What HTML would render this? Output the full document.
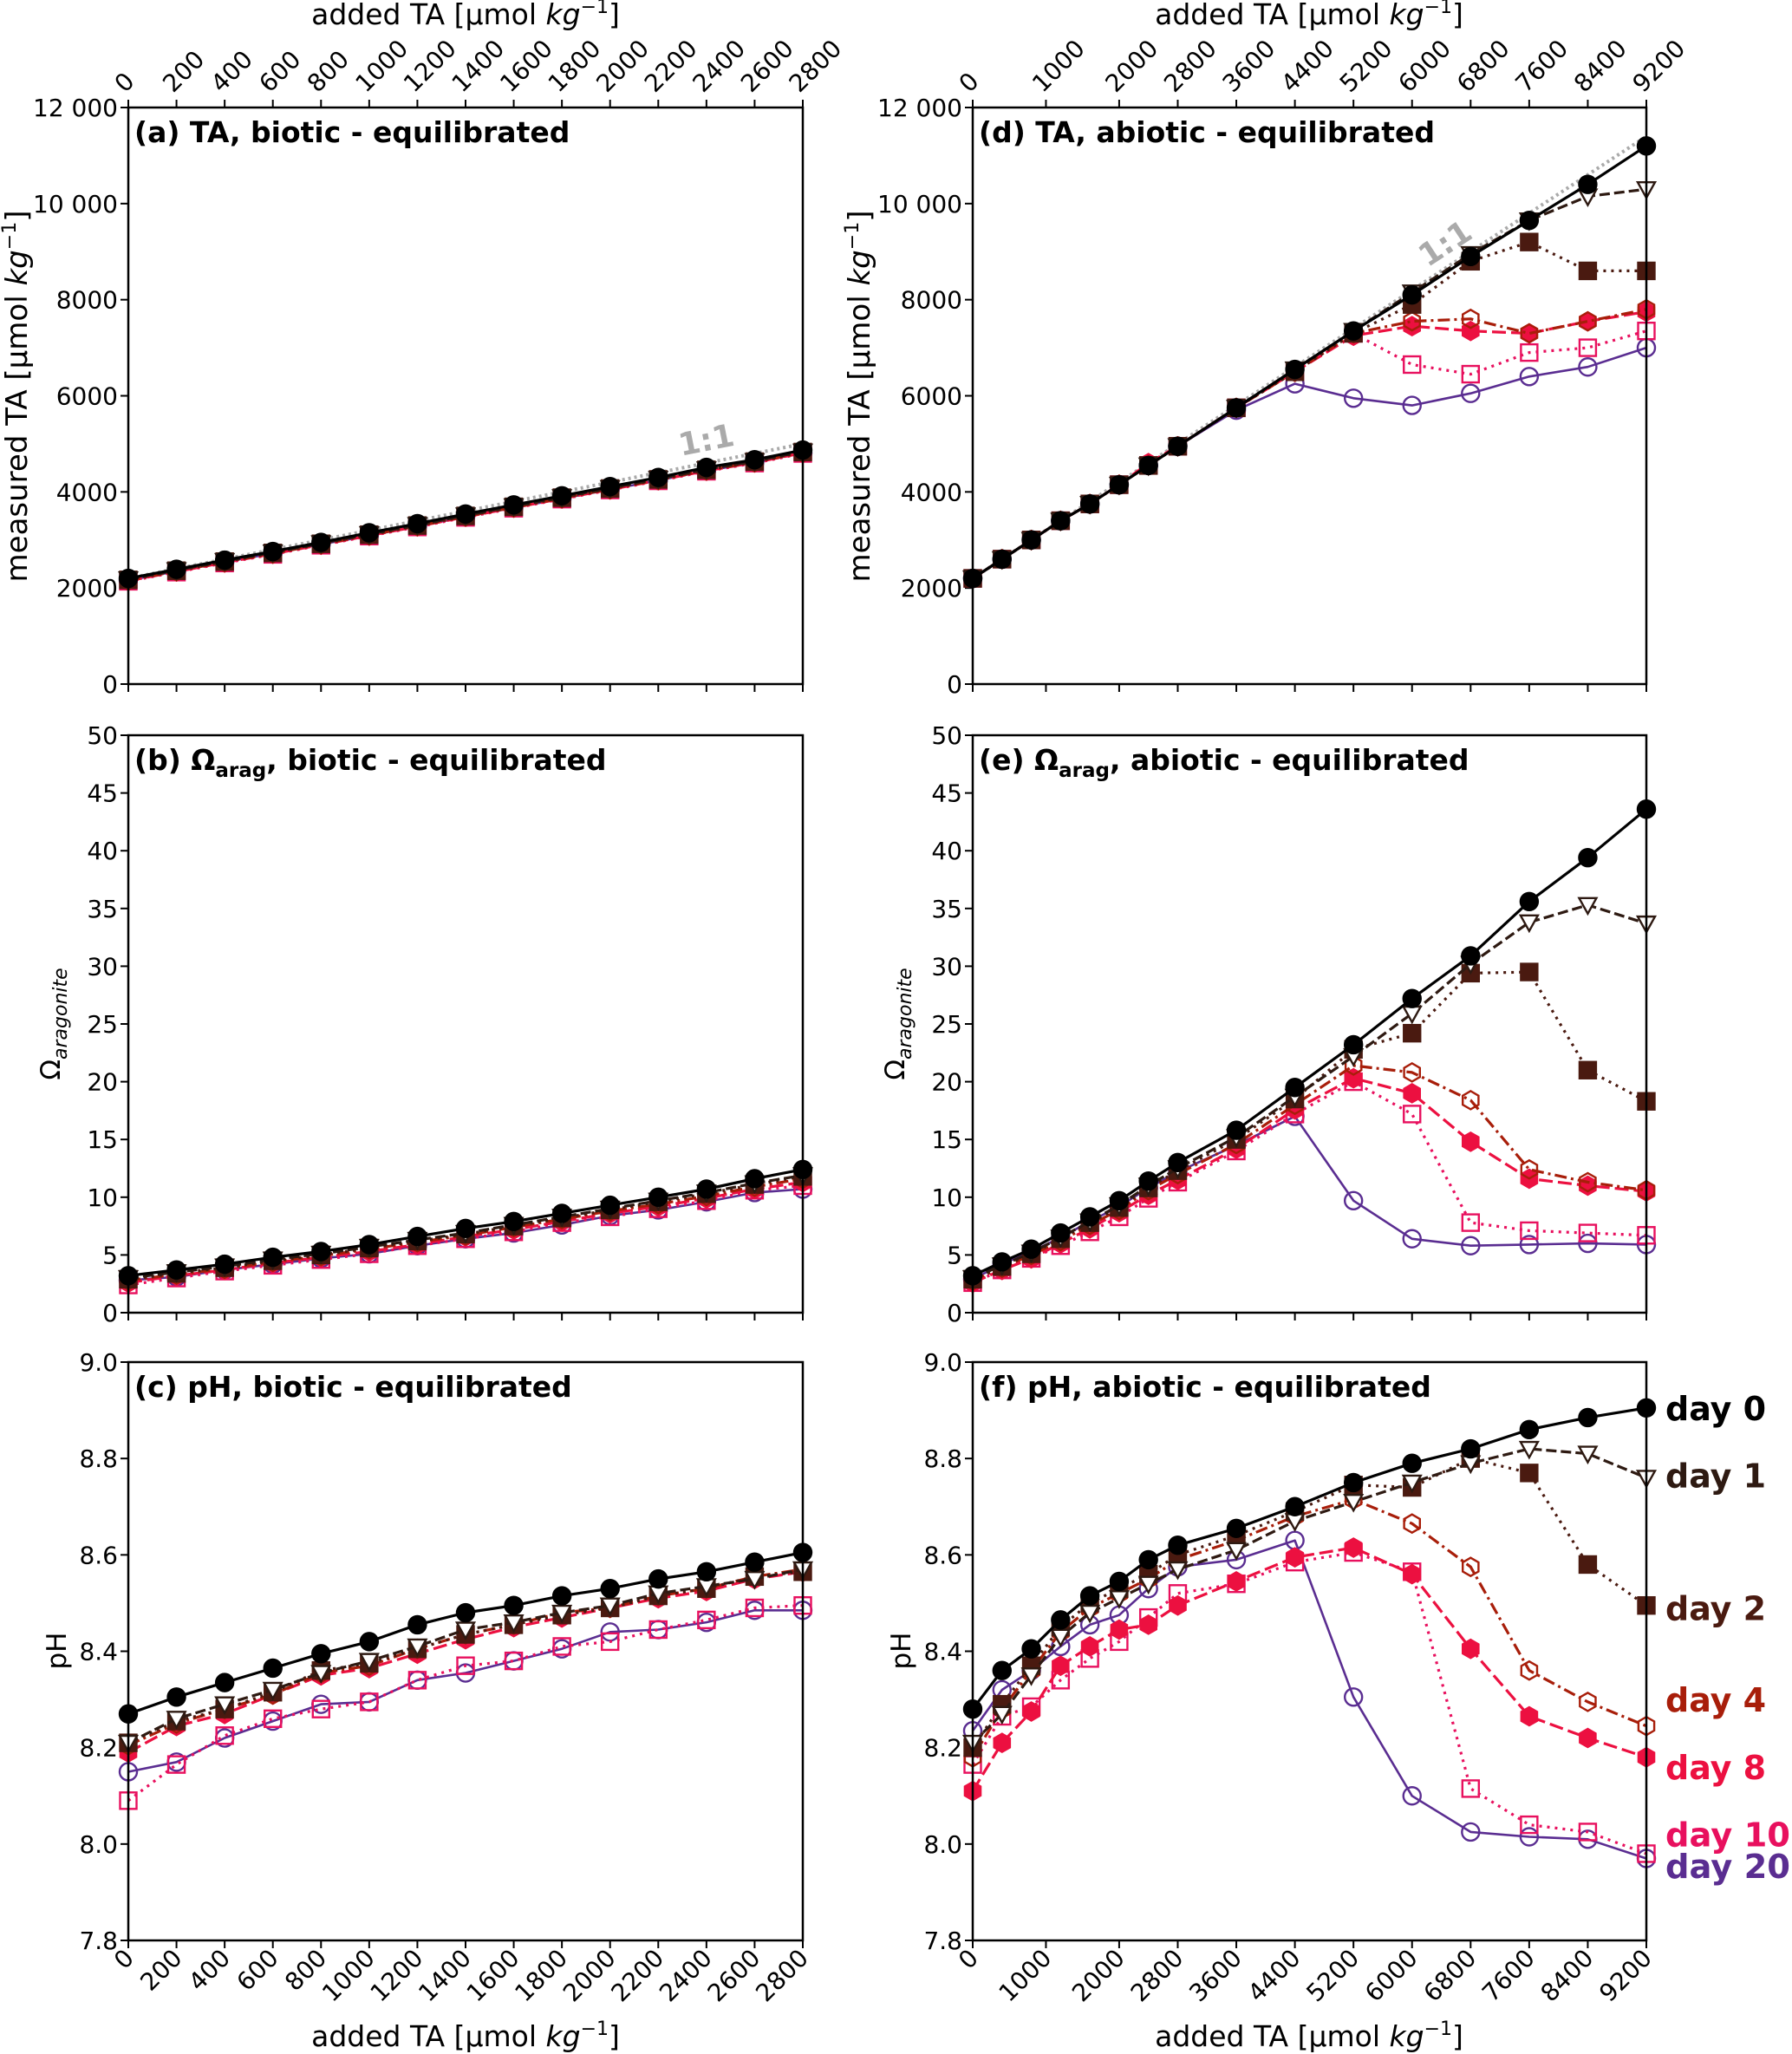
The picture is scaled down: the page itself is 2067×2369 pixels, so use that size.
<!DOCTYPE html>
<html><head><meta charset="utf-8">
<style>
html,body{margin:0;padding:0;background:#fff;}
svg{display:block;font-family:"DejaVu Sans","Liberation Sans",sans-serif;}
</style></head>
<body>
<svg id="chart" xmlns="http://www.w3.org/2000/svg" width="2067" height="2369" viewBox="0 0 2067 2369"></svg>
<script>
// ---- data ----
const dayLabels = ["day 0","day 1","day 2","day 4","day 8","day 10","day 20"];
const bioticX = [0,200,400,600,800,1000,1200,1400,1600,1800,2000,2200,2400,2600,2800];
const abioticX = [0,400,800,1200,1600,2000,2400,2800,3600,4400,5200,6000,6800,7600,8400,9200];
const bioticTicks = [0,200,400,600,800,1000,1200,1400,1600,1800,2000,2200,2400,2600,2800];
const abioticTicks = [0,1000,2000,2800,3600,4400,5200,6000,6800,7600,8400,9200];

// biotic TA
const taB0 = [2200,2390,2580,2760,2950,3150,3340,3540,3730,3920,4110,4300,4510,4670,4870];
const taB1 = [2180,2370,2560,2740,2930,3120,3310,3510,3700,3890,4080,4270,4470,4640,4840];
const taB2 = [2170,2360,2550,2730,2920,3110,3300,3500,3690,3880,4070,4260,4460,4630,4830];
const taB4 = [2160,2350,2540,2720,2910,3100,3290,3490,3680,3870,4060,4250,4450,4620,4820];
const taB8 = [2150,2340,2530,2710,2900,3090,3280,3480,3670,3860,4050,4240,4440,4610,4810];
const taB10 = [2140,2330,2520,2700,2890,3080,3270,3470,3660,3850,4040,4230,4430,4600,4800];
const taB20 = [2160,2350,2540,2720,2910,3090,3290,3480,3670,3860,4050,4240,4440,4610,4810];
// biotic omega
const omB0 = [3.2,3.7,4.2,4.8,5.3,5.9,6.6,7.3,7.9,8.6,9.3,10.0,10.7,11.6,12.4];
const omB1 = [3.0,3.5,4.0,4.6,5.1,5.7,6.3,6.9,7.6,8.3,9.0,9.7,10.4,11.2,11.9];
const omB2 = [2.9,3.4,3.9,4.5,5.0,5.6,6.2,6.8,7.5,8.2,8.9,9.6,10.3,11.1,11.8];
const omB4 = [2.8,3.3,3.8,4.4,4.9,5.5,6.1,6.7,7.4,8.1,8.8,9.4,10.1,10.9,11.6];
const omB8 = [2.6,3.2,3.7,4.3,4.8,5.3,5.9,6.6,7.2,7.9,8.6,9.2,9.9,10.7,11.3];
const omB10 = [2.4,3.0,3.6,4.1,4.6,5.1,5.8,6.4,7.0,7.8,8.3,9.0,9.7,10.6,11.0];
const omB20 = [2.8,3.1,3.7,4.2,4.7,5.1,5.8,6.4,6.9,7.6,8.4,8.9,9.6,10.4,10.7];
// biotic pH
const phB0 = [8.27,8.305,8.335,8.365,8.395,8.42,8.455,8.48,8.495,8.515,8.53,8.55,8.565,8.585,8.605];
const phB1 = [8.21,8.26,8.29,8.32,8.355,8.38,8.41,8.445,8.46,8.48,8.495,8.52,8.535,8.55,8.57];
const phB2 = [8.21,8.255,8.28,8.315,8.36,8.375,8.405,8.435,8.455,8.475,8.49,8.515,8.53,8.555,8.565];
const phB4 = [8.205,8.25,8.28,8.31,8.355,8.37,8.405,8.435,8.455,8.48,8.49,8.515,8.53,8.555,8.57];
const phB8 = [8.19,8.245,8.27,8.31,8.35,8.365,8.395,8.425,8.45,8.47,8.49,8.51,8.525,8.55,8.565];
const phB10 = [8.09,8.165,8.225,8.26,8.28,8.295,8.34,8.37,8.38,8.41,8.42,8.445,8.465,8.49,8.495];
const phB20 = [8.15,8.17,8.22,8.255,8.29,8.295,8.34,8.355,8.38,8.405,8.44,8.445,8.46,8.485,8.485];
// abiotic TA
const taA0 = [2200,2600,3000,3400,3750,4150,4550,4950,5750,6550,7350,8100,8900,9650,10400,11200];
const taA1 = [2200,2600,3000,3400,3750,4150,4550,4950,5750,6550,7350,8150,8950,9650,10150,10300];
const taA2 = [2200,2600,3000,3400,3750,4150,4550,4950,5750,6500,7300,7900,8800,9200,8600,8600];
const taA4 = [2200,2600,3000,3400,3750,4150,4550,4950,5750,6500,7300,7550,7600,7300,7550,7800];
const taA8 = [2200,2600,3000,3400,3750,4150,4600,4950,5750,6500,7250,7450,7350,7300,7550,7750];
const taA10 = [2200,2600,3000,3400,3750,4150,4550,4950,5750,6500,7300,6650,6450,6900,7000,7350];
const taA20 = [2200,2600,3000,3400,3750,4150,4550,4950,5700,6250,5950,5800,6050,6400,6600,7000];
// abiotic omega
const omA0 = [3.2,4.4,5.5,6.9,8.3,9.7,11.4,13.0,15.8,19.5,23.2,27.2,30.9,35.6,39.4,43.6];
const omA1 = [3.0,4.1,5.2,6.5,7.9,9.3,11.0,12.5,15.2,18.7,22.2,25.9,30.2,33.8,35.3,33.7];
const omA2 = [2.9,4.0,5.1,6.4,7.8,9.1,10.8,12.3,15.0,18.5,22.8,24.2,29.4,29.5,21.0,18.3];
const omA4 = [2.8,3.9,5.0,6.2,7.6,8.9,10.6,12.0,14.6,18.0,21.4,20.8,18.4,12.4,11.3,10.6];
const omA8 = [2.6,3.7,4.7,6.0,7.3,8.7,10.2,11.5,14.2,17.6,20.3,19.0,14.8,11.6,11.0,10.5];
const omA10 = [2.6,3.7,4.7,5.8,7.0,8.3,9.9,11.3,14.0,17.2,20.0,17.2,7.8,7.1,6.9,6.7];
const omA20 = [2.9,4.2,5.3,6.5,7.9,9.2,10.8,12.2,14.5,17.0,9.7,6.4,5.8,5.9,6.0,5.9];
// abiotic pH
const phA0 = [8.28,8.36,8.405,8.465,8.515,8.545,8.59,8.62,8.655,8.70,8.75,8.79,8.82,8.86,8.885,8.905];
const phA1 = [8.21,8.27,8.35,8.43,8.48,8.51,8.54,8.57,8.61,8.67,8.71,8.75,8.79,8.82,8.81,8.76];
const phA2 = [8.20,8.29,8.37,8.45,8.50,8.53,8.56,8.60,8.64,8.69,8.745,8.74,8.80,8.77,8.58,8.495];
const phA4 = [8.18,8.28,8.36,8.44,8.49,8.52,8.55,8.59,8.63,8.68,8.715,8.665,8.575,8.36,8.295,8.245];
const phA8 = [8.11,8.21,8.275,8.37,8.41,8.445,8.455,8.495,8.545,8.595,8.615,8.56,8.405,8.265,8.22,8.18];
const phA10 = [8.165,8.265,8.285,8.34,8.385,8.42,8.47,8.52,8.54,8.585,8.605,8.565,8.115,8.04,8.025,7.98];
const phA20 = [8.235,8.32,8.36,8.41,8.455,8.475,8.53,8.575,8.59,8.63,8.305,8.10,8.025,8.015,8.01,7.97];

const taTicks = [0,2000,4000,6000,8000,10000,12000];
const taTickLabels = ["0","2000","4000","6000","8000","10 000","12 000"];
const omTicks = [0,5,10,15,20,25,30,35,40,45,50];
const phTicks = [7.8,8.0,8.2,8.4,8.6,8.8,9.0];

// ---- styles ----
const colors = ["#000000","#2e1a12","#4a1a10","#a81e0a","#ec1040","#e8105e","#5a2d91"];
const dashes = ["", "12,5", "3,6", "14,5,3,5", "16,6", "3,6", ""];
const widths = [3.2,3.2,3.2,3.2,3.2,3.2,2.6];
const markers = ["circle","tri","square","hex","hex","square","circle"];
const fills = [true,false,true,false,true,false,false];

const NS="http://www.w3.org/2000/svg";
const svg=document.getElementById('chart');
function el(tag,attrs,parent){const e=document.createElementNS(NS,tag);for(const k in attrs)e.setAttribute(k,attrs[k]);(parent||svg).appendChild(e);return e;}

function marker(g,type,x,y,c,filled){
  const fill=filled?c:(type==="tri"?"#fff":"none");
  let m;
  if(type==="circle"){m=el('circle',{cx:x,cy:y,r:10,fill:fill,stroke:c,'stroke-width':2.4},g);}
  else if(type==="square"){m=el('rect',{x:x-9.5,y:y-9.5,width:19,height:19,fill:fill,stroke:c,'stroke-width':2.4},g);}
  else if(type==="tri"){m=el('polygon',{points:`${x-10},${y-8} ${x+10},${y-8} ${x},${y+10}`,fill:fill,stroke:c,'stroke-width':2.4},g);}
  else {let p=[];for(let i=0;i<6;i++){const a=Math.PI/3*i+Math.PI/6;p.push((x+10.5*Math.cos(a)).toFixed(1)+','+(y+10.5*Math.sin(a)).toFixed(1));}
    m=el('polygon',{points:p.join(' '),fill:fill,stroke:c,'stroke-width':2.4},g);}
  
  
}

function panel(opt){
  const {x0,x1,y0,y1,xmax,ymin,ymax,xs,series,xTicks,yTicks,yTickLabels,title,name,topAxis,bottomLabels,oneToOne}=opt;
  const g=el('g',{});
  
  
  const sx=v=>x0+(v/xmax)*(x1-x0);
  const sy=v=>y1-(v-ymin)/(ymax-ymin)*(y1-y0);
  const yt=el('g',{},g);
  yTicks.forEach((t,i)=>{
    el('line',{x1:x0-9,x2:x0,y1:sy(t),y2:sy(t),stroke:'#000','stroke-width':2},yt);
    const tx=el('text',{x:x0-12,y:sy(t)+10,'text-anchor':'end','font-size':28},yt);tx.textContent=yTickLabels[i];
  });
  const xt=el('g',{},g);
  xTicks.forEach(t=>{
    el('line',{x1:sx(t),x2:sx(t),y1:y1,y2:y1+9,stroke:'#000','stroke-width':2},xt);
    if(topAxis){el('line',{x1:sx(t),x2:sx(t),y1:y0,y2:y0-9,stroke:'#000','stroke-width':2},xt);
      const tx=el('text',{x:sx(t)-4,y:y0-16,'font-size':28,transform:`rotate(-45 ${sx(t)-4} ${y0-16})`},xt);tx.textContent=String(t);}
    if(bottomLabels){const tx=el('text',{x:sx(t)+8,y:y1+22,'text-anchor':'end','font-size':28,transform:`rotate(-45 ${sx(t)+8} ${y1+22})`},xt);tx.textContent=String(t);}
  });
  if(oneToOne){
    const ln=el('line',{x1:sx(0),y1:sy(2200),x2:sx(xmax),y2:sy(2200+xmax),stroke:'#aaaaaa','stroke-width':4,'stroke-dasharray':'3,4'},g);
    
    const lx=sx(xmax*oneToOne.f), ly=sy(2200+xmax*oneToOne.f)-14;
    const ang=Math.atan2(sy(2200+xmax)-sy(2200),sx(xmax)-sx(0))*180/Math.PI;
    const tl=el('text',{x:lx,y:ly,'font-size':36,'font-weight':'bold',fill:'#aaaaaa','text-anchor':'middle',transform:`rotate(${ang} ${lx} ${ly})`},g);
    tl.textContent='1:1';
  }
  for(let s=series.length-1;s>=0;s--){
    const sg=el('g',{},g);
    
    
    const pts=xs.map((v,i)=>sx(v).toFixed(1)+','+sy(series[s][i]).toFixed(1)).join(' ');
    const pl=el('polyline',{points:pts,fill:'none',stroke:colors[s],'stroke-width':widths[s],'stroke-dasharray':dashes[s],'stroke-linejoin':'round'},sg);
    
    xs.forEach((v,i)=>marker(sg,markers[s],sx(v),sy(series[s][i]),colors[s],fills[s]));
  }
  const fr=el('rect',{x:x0,y:y0,width:x1-x0,height:y1-y0,fill:'none',stroke:'#000','stroke-width':2.5},g);
  
  const tt=el('text',{x:x0+7,y:y0+40,'font-size':33,'font-weight':'bold'},g);
  tt.innerHTML=title;
  return {sx,sy};
}

const L=[148,926], R=[1122,1899];
const rows=[[124,789],[848,1514],[1571,2238]];
const bS=[taB0,taB1,taB2,taB4,taB8,taB10,taB20];
const bO=[omB0,omB1,omB2,omB4,omB8,omB10,omB20];
const bP=[phB0,phB1,phB2,phB4,phB8,phB10,phB20];
const aS=[taA0,taA1,taA2,taA4,taA8,taA10,taA20];
const aO=[omA0,omA1,omA2,omA4,omA8,omA10,omA20];
const aP=[phA0,phA1,phA2,phA4,phA8,phA10,phA20];
const omLab=omTicks.map(String), phLab=phTicks.map(v=>v.toFixed(1));

panel({x0:L[0],x1:L[1],y0:rows[0][0],y1:rows[0][1],xmax:2800,ymin:0,ymax:12000,xs:bioticX,series:bS,xTicks:bioticTicks,yTicks:taTicks,yTickLabels:taTickLabels,title:'(a) TA, biotic - equilibrated',name:'panel-a-ta-biotic',topAxis:true,oneToOne:{f:0.86}});
panel({x0:L[0],x1:L[1],y0:rows[1][0],y1:rows[1][1],xmax:2800,ymin:0,ymax:50,xs:bioticX,series:bO,xTicks:bioticTicks,yTicks:omTicks,yTickLabels:omLab,title:'(b) Ω<tspan font-size="23" dy="8">arag</tspan><tspan dy="-8">, biotic - equilibrated</tspan>',name:'panel-b-omega-biotic'});
panel({x0:L[0],x1:L[1],y0:rows[2][0],y1:rows[2][1],xmax:2800,ymin:7.8,ymax:9.0,xs:bioticX,series:bP,xTicks:bioticTicks,yTicks:phTicks,yTickLabels:phLab,title:'(c) pH, biotic - equilibrated',name:'panel-c-ph-biotic',bottomLabels:true});
panel({x0:R[0],x1:R[1],y0:rows[0][0],y1:rows[0][1],xmax:9200,ymin:0,ymax:12000,xs:abioticX,series:aS,xTicks:abioticTicks,yTicks:taTicks,yTickLabels:taTickLabels,title:'(d) TA, abiotic - equilibrated',name:'panel-d-ta-abiotic',topAxis:true,oneToOne:{f:0.71}});
panel({x0:R[0],x1:R[1],y0:rows[1][0],y1:rows[1][1],xmax:9200,ymin:0,ymax:50,xs:abioticX,series:aO,xTicks:abioticTicks,yTicks:omTicks,yTickLabels:omLab,title:'(e) Ω<tspan font-size="23" dy="8">arag</tspan><tspan dy="-8">, abiotic - equilibrated</tspan>',name:'panel-e-omega-abiotic'});
const pf=panel({x0:R[0],x1:R[1],y0:rows[2][0],y1:rows[2][1],xmax:9200,ymin:7.8,ymax:9.0,xs:abioticX,series:aP,xTicks:abioticTicks,yTicks:phTicks,yTickLabels:phLab,title:'(f) pH, abiotic - equilibrated',name:'panel-f-ph-abiotic',bottomLabels:true});

// legend labels near right end
const legendY=[8.905,8.765,8.49,8.30,8.16,8.02,7.955];
dayLabels.forEach((d,i)=>{
  const y=pf.sy(legendY[i])+14;
  const t=el('text',{x:1921,y:y,'font-size':38,'font-weight':'bold',fill:colors[i]});
  if(i>=5){t.setAttribute('textLength',144);t.setAttribute('lengthAdjust','spacingAndGlyphs');}
  t.textContent=d;
  
  
});

function txt(html,attrs,name){const t=el('text',attrs);t.innerHTML=html;return t;}
const unit='added TA [µmol <tspan font-style="italic">kg</tspan><tspan font-size="22" dy="-13">−1</tspan><tspan dy="13">]</tspan>';
txt(unit,{x:537,y:28,'text-anchor':'middle','font-size':33},'top-x-axis-title-left');
txt(unit,{x:1510,y:28,'text-anchor':'middle','font-size':33},'top-x-axis-title-right');
txt(unit,{x:537,y:2360,'text-anchor':'middle','font-size':33},'x-axis-title-left');
txt(unit,{x:1510,y:2360,'text-anchor':'middle','font-size':33},'x-axis-title-right');
const yu='measured TA [µmol <tspan font-style="italic">kg</tspan><tspan font-size="22" dy="-13">−1</tspan><tspan dy="13">]</tspan>';
txt(yu,{x:0,y:0,'text-anchor':'middle','font-size':34,transform:'translate(31 457) rotate(-90)'},'y-axis-title-a');
txt(yu,{x:0,y:0,'text-anchor':'middle','font-size':34,transform:'translate(1003 457) rotate(-90)'},'y-axis-title-d');
const om='Ω<tspan font-size="22" font-style="italic" dy="8">aragonite</tspan>';
txt(om,{x:0,y:0,'text-anchor':'middle','font-size':31,transform:'translate(69 1181) rotate(-90)'},'y-axis-title-b');
txt(om,{x:0,y:0,'text-anchor':'middle','font-size':31,transform:'translate(1043 1181) rotate(-90)'},'y-axis-title-e');
txt('pH',{x:0,y:0,'text-anchor':'middle','font-size':31,transform:'translate(76 1904) rotate(-90)'},'y-axis-title-c');
txt('pH',{x:0,y:0,'text-anchor':'middle','font-size':31,transform:'translate(1050 1904) rotate(-90)'},'y-axis-title-f');
</script>
</body></html>
